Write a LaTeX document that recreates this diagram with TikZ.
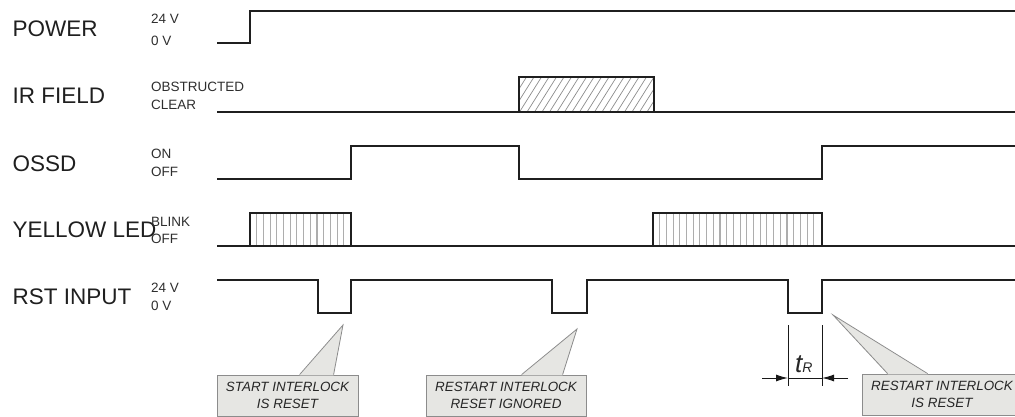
\documentclass[tikz,border=0pt]{standalone}
\usepackage{fontspec}
\setmainfont{Liberation Sans}
\usetikzlibrary{arrows.meta,calc}
\definecolor{cfill}{HTML}{E6E6E3}
\definecolor{cline}{HTML}{8C8C8C}
\begin{document}
\begin{tikzpicture}[x=1pt,y=-1pt,
  sig/.style={line width=1.8pt, black!88, line join=miter},
  biglbl/.style={anchor=west, inner sep=0pt, font=\fontsize{22.5}{26}\selectfont, text=black!88},
  smalllbl/.style={anchor=west, inner sep=0pt, font=\fontsize{13.5}{15}\selectfont, text=black!82},
  hatchline/.style={line width=0.7pt, black!45},
  vhatch/.style={line width=1.1pt, black!32},
  callbox/.style={draw=cline, fill=cfill, line width=0.8pt, minimum height=41pt, align=center, inner sep=0pt, font=\fontsize{13.4}{16.5}\selectfont\itshape, text=black!85},
  cborder/.style={draw=cline, line width=0.8pt},
  dimline/.style={line width=1pt, black!90}]
\useasboundingbox (0,0) rectangle (1015,417);
\clip (0,0) rectangle (1015,417);

% ---- signal names ----
\node[biglbl] (lpower) at (12.5,29) {POWER};
\node[biglbl] (lir) at (12.5,96) {IR FIELD};
\node[biglbl] (lossd) at (12.5,164) {OSSD};
\node[biglbl] (lled) at (12.5,230) {YELLOW LED};
\node[biglbl] (lrst) at (12.5,297) {RST INPUT};

% ---- level names ----
\node[smalllbl] (p24) at (151,19) {24 V};
\node[smalllbl] (p0) at (151,40.5) {0 V};
\node[smalllbl] (iro) at (151,86.5) {OBSTRUCTED};
\node[smalllbl] (irc) at (151,105) {CLEAR};
\node[smalllbl] (oon) at (151,154) {ON};
\node[smalllbl] (ooff) at (151,172) {OFF};
\node[smalllbl] (lb) at (151,221.5) {BLINK};
\node[smalllbl] (lo) at (151,238.5) {OFF};
\node[smalllbl] (r24) at (151,288) {24 V};
\node[smalllbl] (r0) at (151,306) {0 V};

% ---- IR hatched box ----
\begin{scope}
  \clip (519,77) rectangle (654,112);
  \foreach \i in {0,...,24} \draw[hatchline] ({497+\i*7.5},112) -- ++(22,-35);
\end{scope}
\draw[sig] (519,112) -- (519,77) -- (654,77) -- (654,112);

% ---- LED hatched boxes ----
\foreach \i in {1,...,14} \draw[vhatch] ({250+\i*6.7},213) -- ++(0,33);
\foreach \i in {1,...,24} \draw[vhatch] ({653+\i*6.7},213) -- ++(0,33);
\draw[sig] (250,246) -- (250,213) -- (351,213) -- (351,246);
\draw[sig] (653,246) -- (653,213) -- (822,213) -- (822,246);

% ---- signals ----
\draw[sig] (217,43) -- (250,43) -- (250,11) -- (1016,11);
\draw[sig] (217,112) -- (1016,112);
\draw[sig] (217,179) -- (351,179) -- (351,146) -- (519,146) -- (519,179) -- (822,179) -- (822,146) -- (1016,146);
\draw[sig] (217,246) -- (1016,246);
\draw[sig] (217,280) -- (318,280) -- (318,313) -- (351,313) -- (351,280)
   -- (552,280) -- (552,313) -- (587,313) -- (587,280)
   -- (788,280) -- (788,313) -- (822,313) -- (822,280) -- (1016,280);

% ---- t_R dimension ----
\coordinate (da) at (788,325);
\coordinate (db) at (822,325);
\draw[dimline] (da) -- ++(0,61);
\draw[dimline] (db) -- ++(0,61);
\coordinate (la) at (762,378);
\coordinate (ra) at (848,378);
\draw[dimline, -{Latex[length=12pt,width=7pt]}] (la) -- (788,378);
\draw[dimline, -{Latex[length=12pt,width=7pt]}] (ra) -- (822,378);
\draw[dimline] (788,378) -- (822,378);
\node[anchor=base west, inner sep=0pt, text=black!85] (tr) at (795,372)
  {\fontsize{26}{26}\selectfont\itshape t\fontsize{14}{14}\selectfont R};

% ---- callouts ----
\node[callbox, minimum width=141pt] (c1) at (287.5,395.5) {START INTERLOCK\\IS RESET};
\node[callbox, minimum width=160pt] (c2) at (506,395.5) {RESTART INTERLOCK\\RESET IGNORED};
\node[callbox, minimum width=160pt] (c3) at (942,394.5) {RESTART INTERLOCK\\IS RESET};
\coordinate (t1) at (343,325);
\coordinate (t2) at (577,329);
\coordinate (t3) at (833,315);
\fill[cfill] ($(c1.north west)+(83,0.7)$) -- (t1) -- ($(c1.north west)+(117,0.7)$) -- cycle;
\draw[cborder] ($(c1.north west)+(83,0)$) -- (t1) -- ($(c1.north west)+(117,0)$);
\fill[cfill] ($(c2.north west)+(96,0.7)$) -- (t2) -- ($(c2.north west)+(137,0.7)$) -- cycle;
\draw[cborder] ($(c2.north west)+(96,0)$) -- (t2) -- ($(c2.north west)+(137,0)$);
\fill[cfill] ($(c3.north west)+(26,0.7)$) -- (t3) -- ($(c3.north west)+(66,0.7)$) -- cycle;
\draw[cborder] ($(c3.north west)+(26,0)$) -- (t3) -- ($(c3.north west)+(66,0)$);
\end{tikzpicture}
\end{document}
